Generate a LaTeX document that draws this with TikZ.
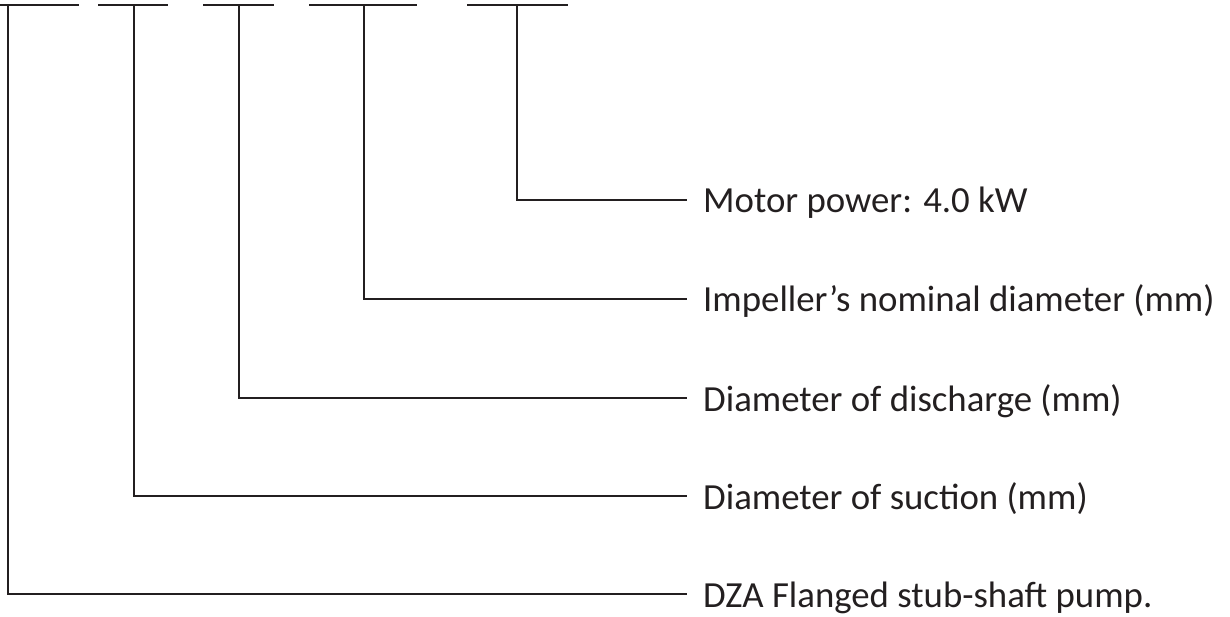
\documentclass[tikz,border=0pt]{standalone}
\usepackage{fontspec}
\setmainfont{Carlito}
\definecolor{ink}{HTML}{231F20}
\begin{document}
\begin{tikzpicture}[x=1pt,y=-1pt,
  lead/.style={draw=ink,line width=2.8pt},
  lab/.style={anchor=base west,inner sep=0pt,text=ink,font=\fontsize{36.8}{40}\selectfont}]
\useasboundingbox (0,0) rectangle (1230,617);
% top bars
\draw[lead] (0,5) -- (79,5);
\draw[lead] (98,5) -- (168,5);
\draw[lead] (203,5) -- (274,5);
\draw[lead] (309,5) -- (417,5);
\draw[lead] (467,5) -- (568,5);
\coordinate (t1) at (8,5);
\coordinate (t2) at (134,5);
\coordinate (t3) at (239,5);
\coordinate (t4) at (364,5);
\coordinate (t5) at (517,5);
\node[lab] (l5) at (703,213) {Motor power: 4.0 kW};
\node[lab] (l4) at (703,312) {Impeller’s nominal diameter (mm)};
\node[lab] (l3) at (703,411) {Diameter of discharge (mm)};
\node[lab] (l2) at (703,509) {Diameter of suction (mm)};
\node[lab] (l1) at (703,607) {DZA Flanged stub-shaft pump.};
\coordinate (e5) at (687,200);
\coordinate (e4) at (687,299);
\coordinate (e3) at (687,398);
\coordinate (e2) at (687,496);
\coordinate (e1) at (687,594);
\draw[lead] (t5) |- (e5);
\draw[lead] (t4) |- (e4);
\draw[lead] (t3) |- (e3);
\draw[lead] (t2) |- (e2);
\draw[lead] (t1) |- (e1);
\end{tikzpicture}
\end{document}
